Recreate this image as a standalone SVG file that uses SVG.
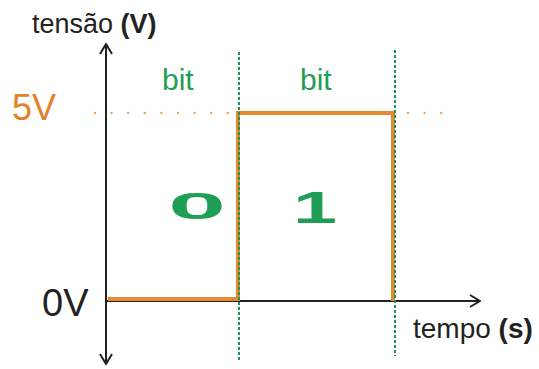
<svg xmlns="http://www.w3.org/2000/svg" width="539" height="369" viewBox="0 0 539 369">
<style>
.lbl{font-family:"Liberation Sans",Arial,sans-serif;fill:#222}
.org{fill:#E3822A}
.grn{fill:#1F9E55}
.axis{stroke:#222;stroke-width:2;fill:none}
.sig{stroke:#E68A30;stroke-width:4;fill:none;stroke-linejoin:miter}
.div{stroke:#1E9558;stroke-width:2;stroke-dasharray:3 2;fill:none}
.dots{stroke:#E9A060;stroke-width:2.4;stroke-linecap:round;stroke-dasharray:0 16.6;fill:none}
</style>
<defs>
<marker id="arr" viewBox="0 0 12 14" refX="11" refY="7" markerWidth="12" markerHeight="14" markerUnits="userSpaceOnUse" orient="auto-start-reverse">
<path d="M1 1 L11 7 L1 13" fill="none" stroke="#222" stroke-width="2"/>
</marker>
</defs>
<rect width="539" height="369" fill="#fff"/>
<g id="connectors">
<line class="dots" x1="95" y1="113" x2="236" y2="113"/>
<line class="dots" x1="408" y1="113" x2="442" y2="113"/>
<line class="axis" x1="106" y1="44" x2="106" y2="364" marker-start="url(#arr)" marker-end="url(#arr)"/>
<line class="axis" x1="106" y1="301" x2="480" y2="301" marker-end="url(#arr)"/>
<path class="sig" d="M108 299 H238 V113 H393 V301"/>
<line class="div" x1="239" y1="52" x2="239" y2="362"/>
<line class="div" x1="395" y1="50" x2="395" y2="356"/>
</g>
<g id="label-tensao"><text class="lbl" x="32" y="33" font-size="27">tensão <tspan font-weight="bold">(V)</tspan></text></g>
<g id="label-5v"><text class="lbl org" x="12" y="120" font-size="36">5V</text></g>
<g id="label-0v"><text class="lbl" x="42" y="316" font-size="38" fill="#333">0V</text></g>
<g id="label-bit1"><text class="lbl grn" x="162" y="90" font-size="30">bit</text></g>
<g id="label-bit2"><text class="lbl grn" x="300" y="90" font-size="30">bit</text></g>
<g id="bit0"><text class="lbl grn" font-size="37" font-weight="bold" text-anchor="middle" transform="translate(197 219) scale(2.8 1)">0</text></g>
<g id="bit1"><text class="lbl grn" font-size="44" font-weight="bold" text-anchor="middle" transform="translate(315 223) scale(1.8 1)">1</text></g>
<g id="label-tempo"><text class="lbl" x="413" y="338" font-size="28">tempo <tspan font-weight="bold">(s)</tspan></text></g>
</svg>
